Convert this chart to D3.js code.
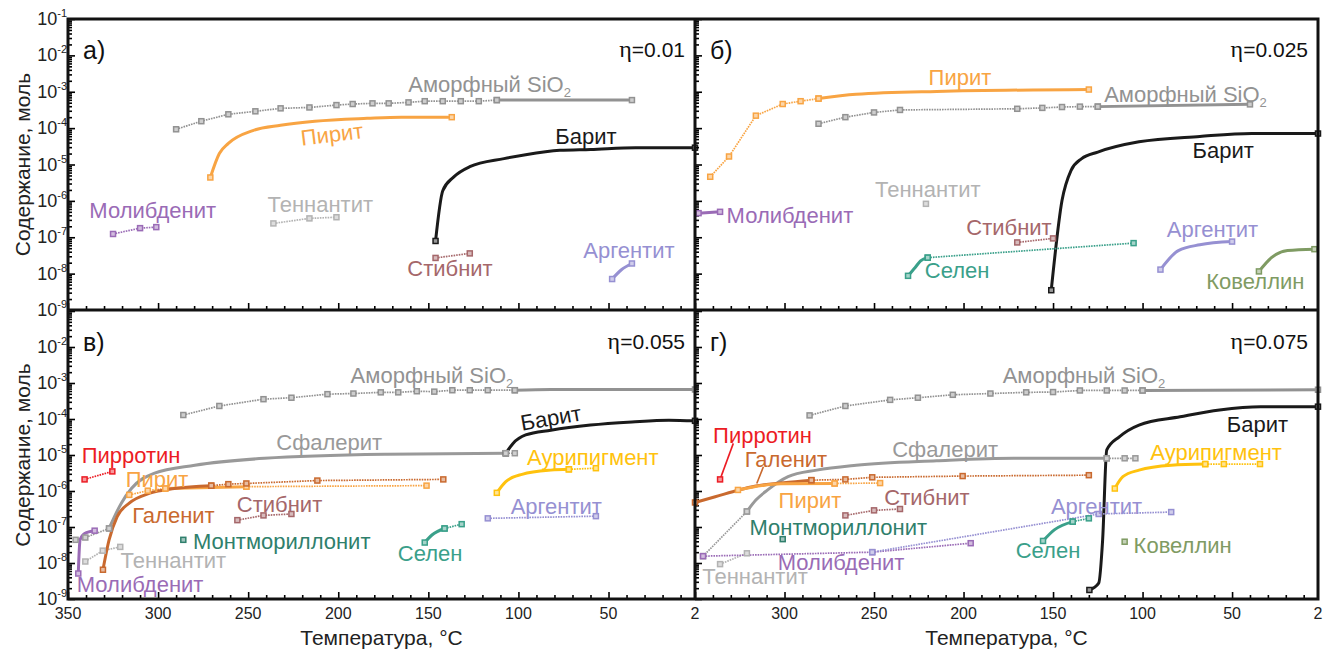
<!DOCTYPE html>
<html>
<head>
<meta charset="utf-8">
<script src="https://cdn.jsdelivr.net/npm/d3@7"></script>
<style>
  body { margin: 0; background: #fff; }
  text { font-family: "Liberation Sans", Arial, sans-serif; }
</style>
</head>
<body>
<svg id="chart" width="1325" height="650"></svg>
<script>
// mineral colours
var colors = {
  sio2: "#929292", sphal: "#999999", tenn: "#b3b3b3", pyrite: "#f8a443",
  barite: "#1a1a1a", molyb: "#9a6bb6", stib: "#a5676a", argent: "#9690d2",
  selen: "#3aa08a", montm: "#2f7f6c", kov: "#7f9b63", pyrr: "#ec1c24",
  galena: "#c9692e", aurip: "#ffc20e"
};

// series: [mineral, style (s solid, d dotted, p point, l leader), [[T, mol], ...]]
var panelA = [
  ["sio2", "d", [[290, 9.3e-5], [276, 1.55e-4], [261, 2.4e-4], [246, 2.9e-4], [232, 3.5e-4], [216, 3.7e-4], [201, 4.3e-4], [192, 4.6e-4], [181, 4.8e-4], [172, 4.8e-4], [161, 5.1e-4], [152, 5.5e-4], [142, 5.5e-4], [132, 5.5e-4], [122, 5.5e-4], [112, 5.9e-4]]],
  ["sio2", "s", [[112, 5.9e-4], [37, 5.9e-4]]],
  ["pyrite", "s", [[271, 4.4e-6], [266, 2.0e-5], [261, 3.8e-5], [247, 8.7e-5], [232, 1.2e-4], [213, 1.55e-4], [184, 1.86e-4], [165, 2.0e-4], [137, 2.0e-4]]],
  ["barite", "s", [[146, 7.9e-8], [142, 1.9e-6], [136, 4.5e-6], [127, 8.7e-6], [108, 1.45e-5], [96, 1.86e-5], [77, 2.45e-5], [60, 2.6e-5], [35, 2.9e-5], [2, 2.9e-5]]],
  ["molyb", "d", [[325, 1.23e-7], [310, 1.78e-7], [301, 1.9e-7]]],
  ["tenn", "d", [[236, 2.4e-7], [216, 3.3e-7], [201, 3.55e-7]]],
  ["stib", "d", [[146, 2.7e-8], [127, 3.6e-8]]],
  ["argent", "s", [[48, 7.1e-9], [43, 1.26e-8], [37, 1.9e-8]]]
];

var panelB = [
  ["pyrite", "d", [[341.5, 4.6e-6], [331, 1.66e-5], [316, 2.2e-4], [301, 4.6e-4], [291, 5.5e-4], [281, 6.5e-4]]],
  ["pyrite", "s", [[281, 6.5e-4], [260, 8.5e-4], [215, 1.02e-3], [130, 1.15e-3]]],
  ["sio2", "d", [[281, 1.32e-4], [266, 2.0e-4], [250, 2.7e-4], [235.5, 3.16e-4], [170, 3.4e-4], [156, 3.6e-4], [145, 3.8e-4], [135, 3.9e-4], [125, 3.9e-4]]],
  ["sio2", "s", [[125, 3.9e-4], [40, 4.5e-4]]],
  ["barite", "s", [[151, 3.5e-9], [145, 1.02e-6], [140, 6.8e-6], [134, 1.45e-5], [125, 2.2e-5], [102, 4.2e-5], [68, 5.9e-5], [39, 7.1e-5], [2, 7.1e-5]]],
  ["molyb", "s", [[348, 4.6e-7], [336, 5.0e-7]]],
  ["tenn", "p", [[221, 8.3e-7]]],
  ["stib", "d", [[170, 7.2e-8], [150, 9.3e-8]]],
  ["selen", "s", [[231, 8.7e-9], [227, 1.48e-8], [224, 2.24e-8], [220, 2.75e-8]]],
  ["selen", "d", [[220, 2.75e-8], [105, 6.9e-8]]],
  ["argent", "s", [[90, 1.29e-8], [80, 4.3e-8], [68, 6.2e-8], [50, 7.6e-8]]],
  ["kov", "s", [[35, 1.15e-8], [28, 2.75e-8], [19, 4.3e-8], [4, 4.7e-8]]]
];

var panelC = [
  ["sio2", "d", [[286, 1.29e-4], [266, 2.3e-4], [241.5, 3.55e-4], [226, 3.9e-4], [206, 4.9e-4], [191.6, 5.1e-4], [176.4, 5.5e-4], [166.7, 5.5e-4], [156.4, 5.9e-4], [146.7, 5.75e-4], [136.7, 6.3e-4], [127, 6.3e-4], [117, 6.3e-4], [102, 6.3e-4]]],
  ["sio2", "s", [[102, 6.3e-4], [82, 6.6e-4], [2, 6.6e-4]]],
  ["barite", "s", [[107, 1.12e-5], [103, 2.1e-5], [96, 3.6e-5], [82, 4.9e-5], [60, 6.8e-5], [37, 8.3e-5], [16.5, 9.3e-5], [2, 8.9e-5]]],
  ["sphal", "d", [[345.8, 4.4e-8], [340.4, 5.1e-8], [327.2, 9.1e-8]]],
  ["sphal", "s", [[327.2, 9.1e-8], [320.4, 4.6e-7], [314.8, 1.17e-6], [302.3, 3.1e-6], [279.6, 5.2e-6], [241, 8.1e-6], [173, 1.05e-5], [107, 1.12e-5]]],
  ["sphal", "d", [[107, 1.12e-5], [102, 1.12e-5]]],
  ["tenn", "d", [[340.4, 1.1e-8], [330.7, 2.2e-8], [321, 2.8e-8]]],
  ["molyb", "s", [[344.3, 5.1e-9], [343.3, 4.4e-8], [340.8, 6.6e-8], [335.2, 7.9e-8]]],
  ["pyrr", "d", [[340.8, 2.1e-6], [325.4, 3.5e-6]]],
  ["pyrite", "d", [[316, 7.8e-7], [305.7, 1.02e-6], [296, 1.17e-6]]],
  ["pyrite", "s", [[296, 1.17e-6], [251, 1.32e-6]]],
  ["pyrite", "d", [[251, 1.32e-6], [151, 1.41e-6]]],
  ["galena", "s", [[330.6, 6.5e-9], [327.2, 4.4e-8], [322.7, 1.95e-7], [316, 4.6e-7], [304.5, 8.7e-7], [291, 1.17e-6], [270.5, 1.41e-6]]],
  ["galena", "d", [[270.5, 1.41e-6], [261, 1.55e-6], [251, 1.62e-6], [211.6, 1.95e-6], [141.7, 2.1e-6]]],
  ["stib", "d", [[256, 1.55e-7], [241.5, 2.1e-7], [226, 2.3e-7]]],
  ["montm", "p", [[286, 4.4e-8]]],
  ["selen", "s", [[152, 3.7e-8], [148, 6.0e-8], [141, 9.1e-8]]],
  ["selen", "d", [[141, 9.1e-8], [131.5, 1.2e-7]]],
  ["aurip", "s", [[112, 8.9e-7], [107, 1.82e-6], [98, 2.9e-6], [82, 3.8e-6], [72, 4.0e-6]]],
  ["aurip", "d", [[72, 4.0e-6], [57, 4.3e-6]]],
  ["argent", "d", [[117, 1.74e-7], [57, 2.0e-7]]]
];

var panelD = [
  ["sio2", "d", [[286, 1.26e-4], [266, 2.3e-4], [241, 3.4e-4], [225.5, 3.9e-4], [206, 4.7e-4], [185, 5.1e-4], [165, 5.5e-4], [150, 5.6e-4], [135, 6.2e-4], [120, 6.2e-4], [110, 6.2e-4], [100, 6.2e-4]]],
  ["sio2", "s", [[100, 6.2e-4], [2, 6.5e-4]]],
  ["barite", "s", [[129.7, 1.78e-9], [124.5, 2.75e-9], [122.3, 4.4e-8], [120, 1.38e-5], [113, 3.2e-5], [102, 6.8e-5], [79, 1.15e-4], [57, 1.78e-4], [34, 2.2e-4], [2, 2.2e-4]]],
  ["sphal", "d", [[345.5, 1.55e-8], [321, 2.7e-7]]],
  ["sphal", "s", [[321, 2.7e-7], [316, 5.6e-7], [309.4, 1.07e-6], [298, 2.5e-6], [282, 3.8e-6], [260, 5.2e-6], [215, 6.9e-6], [172, 8.1e-6], [120, 8.1e-6]]],
  ["sphal", "d", [[120, 8.1e-6], [110, 8.1e-6], [104, 8.1e-6]]],
  ["tenn", "d", [[336, 9.3e-9], [321, 1.86e-8]]],
  ["molyb", "d", [[345.5, 1.55e-8], [251, 2.0e-8], [196, 3.55e-8]]],
  ["argent", "d", [[251, 2.0e-8], [124.5, 2.3e-7], [84, 2.6e-7]]],
  ["pyrr", "p", [[336, 2.1e-6]]],
  ["pyrr", "l", [[336, 2.1e-6], [328.6, 2.1e-5]]],
  ["galena", "s", [[350, 4.8e-7], [338.7, 6.9e-7], [325.6, 1.07e-6], [316, 1.38e-6], [300.4, 1.7e-6], [285, 2.0e-6]]],
  ["galena", "d", [[285, 2.0e-6], [266, 2.1e-6], [251, 2.4e-6], [200.5, 2.6e-6], [130, 2.75e-6]]],
  ["galena", "l", [[315.5, 1.62e-6], [311.8, 4.7e-6]]],
  ["pyrite", "s", [[326, 1.07e-6], [302, 1.58e-6], [272, 1.62e-6]]],
  ["pyrite", "d", [[272, 1.62e-6], [246.6, 1.66e-6]]],
  ["stib", "d", [[266, 2.1e-7], [250, 2.9e-7], [235.5, 3.16e-7]]],
  ["montm", "p", [[301, 4.6e-8]]],
  ["selen", "s", [[155.6, 4.1e-8], [149.3, 8.3e-8], [139, 1.41e-7]]],
  ["selen", "d", [[139, 1.41e-7], [130, 1.74e-7]]],
  ["kov", "p", [[110, 3.9e-8]]],
  ["aurip", "s", [[115.5, 1.17e-6], [111, 2.5e-6], [102, 3.8e-6], [84, 5.2e-6], [65, 5.6e-6]]],
  ["aurip", "d", [[65, 5.6e-6], [54.6, 5.6e-6], [34.4, 5.6e-6]]]
];

// labels: [text, mineral, T, log10(mol), rotation]
var labelsA = [
  ["Аморфный SiO2", "sio2", 116, -2.79], ["Пирит", "pyrite", 203.5, -4.17, -7],
  ["Барит", "barite", 62.5, -4.22], ["Молибденит", "molyb", 303, -6.26],
  ["Теннантит", "tenn", 210, -6.10], ["Стибнит", "stib", 138, -7.86],
  ["Аргентит", "argent", 38.7, -7.36]
];
var labelsB = [
  ["Пирит", "pyrite", 202, -2.60], ["Аморфный SiO2", "sio2", 76, -3.07],
  ["Барит", "barite", 55, -4.61], ["Теннантит", "tenn", 220, -5.68],
  ["Молибденит", "molyb", 297, -6.40], ["Стибнит", "stib", 174.6, -6.73],
  ["Селен", "selen", 203.6, -7.92], ["Аргентит", "argent", 61, -6.79],
  ["Ковеллин", "kov", 37, -8.22]
];
var labelsC = [
  ["Аморфный SiO2", "sio2", 148, -2.78], ["Барит", "barite", 82, -3.97, -10],
  ["Сфалерит", "sphal", 205, -4.64], ["Пирротин", "pyrr", 315, -5.0],
  ["Пирит", "pyrite", 300.6, -5.67], ["Галенит", "galena", 291.5, -6.67],
  ["Стибнит", "stib", 232.6, -6.36], ["Монтмориллонит", "montm", 231.4, -7.39],
  ["Теннантит", "tenn", 291.5, -7.92], ["Молибденит", "molyb", 310, -8.58],
  ["Селен", "selen", 149, -7.74], ["Аурипигмент", "aurip", 58.7, -5.06],
  ["Аргентит", "argent", 79, -6.42]
];
var labelsD = [
  ["Аморфный SiO2", "sio2", 132.7, -2.78], ["Барит", "barite", 35.8, -4.15],
  ["Пирротин", "pyrr", 312.3, -4.44], ["Галенит", "galena", 299.2, -5.11],
  ["Сфалерит", "sphal", 210.3, -4.83], ["Аурипигмент", "aurip", 58.9, -4.92],
  ["Пирит", "pyrite", 285.8, -6.25], ["Стибнит", "stib", 220.4, -6.17],
  ["Аргентит", "argent", 125.7, -6.42], ["Монтмориллонит", "montm", 270, -7.01],
  ["Селен", "selen", 152.8, -7.64], ["Ковеллин", "kov", 77.6, -7.5],
  ["Молибденит", "molyb", 268.4, -7.99], ["Теннантит", "tenn", 316.5, -8.38]
];

var xTickLabels = [350, 300, 250, 200, 150, 100, 50, 2];

var svg = d3.select("#chart");
var X0 = 68, XM = 695, X1 = 1318, Y0 = 19, YM = 310, Y1 = 599;

var panels = [
  {letter: "а)", eta: "0.01",  data: panelA, labels: labelsA, col: 0, row: 0},
  {letter: "б)", eta: "0.025", data: panelB, labels: labelsB, col: 1, row: 0},
  {letter: "в)", eta: "0.055", data: panelC, labels: labelsC, col: 0, row: 1},
  {letter: "г)", eta: "0.075", data: panelD, labels: labelsD, col: 1, row: 1}
];

var yMajor = d3.range(-9, 0).map(function(e) { return Math.pow(10, e); });
var yMinor = [];
d3.range(-9, -1).forEach(function(e) {
  for (var k = 2; k < 10; k++) yMinor.push(k * Math.pow(10, e));
});
var xMajor = [350, 300, 250, 200, 150, 100, 50];
var xMinor = d3.range(10, 350, 10).filter(function(t) { return t % 50 !== 0; });

panels.forEach(function(p) {
  var left = p.col ? XM : X0, right = p.col ? X1 : XM;
  var top = p.row ? YM + 1 : Y0, bottom = p.row ? Y1 : YM;

  var x = d3.scaleLinear().domain([350, 2]).range([left, right]);
  var y = d3.scaleLog().domain([1e-9, 1e-1]).range([bottom, top]);

  var g = svg.append("g");

  // ticks, pointing inward
  function ticks(axis, tx, ty) {
    var a = g.append("g").attr("transform", "translate(" + tx + "," + ty + ")").call(axis);
    a.select(".domain").remove();
    a.selectAll("line").attr("stroke", "#000").attr("stroke-width", 1.6);
    a.selectAll("text").remove();
  }
  ticks(d3.axisRight(y).tickValues(yMajor).tickSize(7), left, 0);
  ticks(d3.axisRight(y).tickValues(yMinor).tickSize(4), left, 0);
  ticks(d3.axisTop(x).tickValues(xMajor).tickSize(7), 0, bottom);
  ticks(d3.axisTop(x).tickValues(xMinor).tickSize(4), 0, bottom);

  // y tick labels (left column only)
  if (p.col === 0) {
    yMajor.forEach(function(v) {
      if (p.row === 1 && v === 1e-1) return;
      var t = g.append("text")
          .attr("x", left - 1)
          .attr("y", y(v) + 6)
          .attr("text-anchor", "end")
          .attr("fill", "#222");
      t.append("tspan").attr("font-size", 18).text("10");
      t.append("tspan").attr("font-size", 11).attr("dy", -8).text(String(Math.round(Math.log10(v))));
    });
    g.append("text")
        .attr("transform", "translate(30," + ((top + bottom) / 2) + ") rotate(-90)")
        .attr("text-anchor", "middle")
        .attr("font-size", 21)
        .attr("fill", "#222")
        .text("Содержание, моль");
  }

  // x tick labels (bottom row only)
  if (p.row === 1) {
    xTickLabels.forEach(function(t) {
      if (p.col === 1 && t === 350) return;
      g.append("text")
          .attr("x", x(t))
          .attr("y", bottom + 20)
          .attr("text-anchor", "middle")
          .attr("font-size", 16)
          .attr("fill", "#222")
          .text(t);
    });
    g.append("text")
        .attr("x", (left + right) / 2)
        .attr("y", 645)
        .attr("text-anchor", "middle")
        .attr("font-size", 21)
        .attr("fill", "#222")
        .text("Температура, °C");
  }

  var smooth = d3.line().x(function(d) { return x(d[0]); }).y(function(d) { return y(d[1]); }).curve(d3.curveMonotoneX);
  var straight = d3.line().x(function(d) { return x(d[0]); }).y(function(d) { return y(d[1]); });

  // lines
  p.data.forEach(function(s) {
    var c = colors[s[0]], style = s[1], pts = s[2];
    if (style === "s") {
      g.append("path").attr("d", smooth(pts)).attr("fill", "none")
          .attr("stroke", c).attr("stroke-width", 3).attr("stroke-linecap", "round").attr("stroke-linejoin", "round");
    } else if (style === "d") {
      g.append("path").attr("d", straight(pts)).attr("fill", "none")
          .attr("stroke", c).attr("stroke-width", 1.7).attr("stroke-dasharray", "1.6,1");
    } else if (style === "l") {
      g.append("path").attr("d", straight(pts)).attr("fill", "none")
          .attr("stroke", c).attr("stroke-width", 1.6);
    }
  });

  // markers
  p.data.forEach(function(s) {
    var c = colors[s[0]], style = s[1], pts = s[2];
    var m = style === "s" ? [pts[0], pts[pts.length - 1]] : style === "l" ? [] : pts;
    g.selectAll(null).data(m).enter().append("rect")
        .attr("x", function(d) { return x(d[0]) - 2.5; })
        .attr("y", function(d) { return y(d[1]) - 2.5; })
        .attr("width", 5).attr("height", 5)
        .attr("fill", d3.interpolateRgb(c, "#fff")(0.55)).attr("stroke", c).attr("stroke-width", 1.5);
  });

  // mineral labels
  p.labels.forEach(function(l) {
    var lx = x(l[2]), ly = y(Math.pow(10, l[3]));
    var t = g.append("text")
        .attr("transform", "translate(" + lx + "," + ly + ") rotate(" + (l[4] || 0) + ")")
        .attr("dy", "0.35em")
        .attr("text-anchor", "middle")
        .attr("font-size", 22)
        .attr("fill", colors[l[1]]);
    if (l[0].slice(-4) === "SiO2") {
      t.append("tspan").text(l[0].slice(0, -1));
      t.append("tspan").attr("font-size", 13).attr("dy", 5).text("2");
    } else {
      t.text(l[0]);
    }
  });

  // panel letter and eta
  g.append("text").attr("x", left + 15).attr("y", top + 40)
      .attr("font-size", 25).attr("fill", "#111").text(p.letter);
  var e = g.append("text").attr("x", right - 10).attr("y", top + 38)
      .attr("text-anchor", "end").attr("font-size", 21).attr("fill", "#111");
  e.append("tspan").attr("font-family", "Liberation Serif, serif").attr("font-size", 24).text("η");
  e.append("tspan").text("=" + p.eta);
});

// frame
svg.append("rect").attr("x", X0).attr("y", Y0).attr("width", X1 - X0).attr("height", Y1 - Y0)
    .attr("fill", "none").attr("stroke", "#111").attr("stroke-width", 3);
svg.append("line").attr("x1", XM).attr("x2", XM).attr("y1", Y0).attr("y2", Y1)
    .attr("stroke", "#111").attr("stroke-width", 3);
svg.append("line").attr("x1", X0).attr("x2", X1).attr("y1", YM).attr("y2", YM)
    .attr("stroke", "#111").attr("stroke-width", 3);
</script>
</body>
</html>
